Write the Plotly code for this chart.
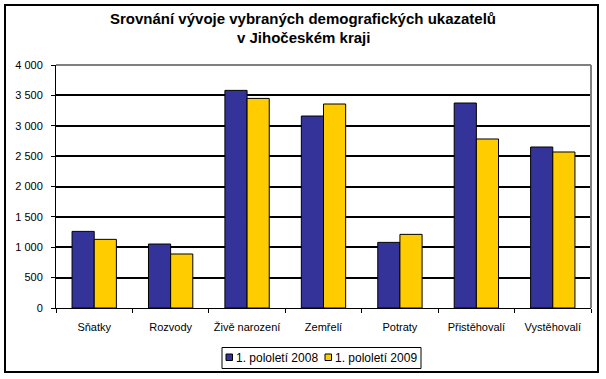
import plotly.graph_objects as go

categories = ["Sňatky", "Rozvody", "Živě narození", "Zemřelí", "Potraty", "Přistěhovalí", "Vystěhovalí"]
series_2008 = [1261, 1053, 3582, 3160, 1080, 3374, 2650]
series_2009 = [1130, 889, 3450, 3358, 1212, 2782, 2568]
series_names = ["1. pololetí 2008", "1. pololetí 2009"]
series_colors = ["#333399", "#FFCC00"]
y_ticks = [0, 500, 1000, 1500, 2000, 2500, 3000, 3500, 4000]
y_tick_labels = ["0", "500", "1 000", "1 500", "2 000", "2 500", "3 000", "3 500", "4 000"]
title_lines = ["Srovnání vývoje vybraných demografických ukazatelů", "v Jihočeském kraji"]

FONT = "Arial, Liberation Sans, sans-serif"

fig = go.Figure()
for name, vals, col in zip(series_names, [series_2008, series_2009], series_colors):
    fig.add_trace(go.Bar(x=categories, y=vals, name=name, showlegend=False, hoverinfo="skip",
                         marker=dict(color=col, line=dict(color="black", width=1))))

W, H = 606, 379
L, R, T, B = 56, 591, 65, 308
pw, ph = R - L, B - T

def px(x):
    return (x - L) / pw

def py(y):
    return (B - y) / ph

shapes = [
    dict(type="rect", xref="paper", yref="paper", x0=px(5), x1=px(598), y0=py(372), y1=py(5),
         line=dict(color="black", width=2), fillcolor="rgba(0,0,0,0)", layer="above"),
    dict(type="line", xref="paper", yref="paper", x0=0, x1=1, y0=1, y1=1,
         line=dict(color="#808080", width=2)),
    dict(type="line", xref="paper", yref="paper", x0=1, x1=1, y0=0, y1=1,
         line=dict(color="#808080", width=2)),
    # legend box
    dict(type="rect", xref="paper", yref="paper", x0=px(222), x1=px(421), y0=py(368.5), y1=py(347.5),
         line=dict(color="black", width=1), fillcolor="white"),
]
annotations = [
    dict(text="<b>" + title_lines[0] + "</b>", xref="paper", yref="paper", x=px(303), y=py(18),
         xanchor="center", yanchor="middle", showarrow=False,
         font=dict(family=FONT, size=15, color="black")),
    dict(text="<b>" + title_lines[1] + "</b>", xref="paper", yref="paper", x=px(303), y=py(38),
         xanchor="center", yanchor="middle", showarrow=False,
         font=dict(family=FONT, size=15, color="black")),
]
legend_items = [(226, 234), (325, 333)]
for (sx, tx), name, col in zip(legend_items, series_names, series_colors):
    shapes.append(dict(type="rect", xref="paper", yref="paper", x0=px(sx), x1=px(sx + 6.5),
                       y0=py(360.5), y1=py(354), line=dict(color="black", width=1), fillcolor=col))
    annotations.append(dict(text=name, xref="paper", yref="paper", x=px(tx), y=py(357.5),
                            xanchor="left", yanchor="middle", showarrow=False,
                            font=dict(family=FONT, size=12, color="black")))

fig.update_layout(
    width=W, height=H,
    margin=dict(l=L, r=W - R, t=T, b=H - B, pad=0),
    paper_bgcolor="white", plot_bgcolor="white",
    font=dict(family=FONT, size=11, color="black"),
    barmode="group", bargap=0.42, bargroupgap=0,
    showlegend=False,
    xaxis=dict(showline=True, linecolor="black", linewidth=1, ticks="outside", ticklen=4,
               tickcolor="black", tickson="boundaries", showgrid=False, ticklabelstandoff=9,
               tickangle=0, tickfont=dict(family=FONT, size=11, color="black"), fixedrange=True),
    yaxis=dict(range=[0, 4000], tickvals=y_ticks, ticktext=y_tick_labels,
               showline=True, linecolor="black", linewidth=1, ticks="outside", ticklen=4,
               tickcolor="black", showgrid=True, gridcolor="black", gridwidth=2, ticklabelstandoff=6,
               zeroline=False, tickfont=dict(family=FONT, size=11, color="black"), fixedrange=True),
    shapes=shapes,
    annotations=annotations,
)

fig.write_html("out.html", config={"displayModeBar": False},
               post_script="document.body.style.margin='0';document.body.style.overflow='hidden';")
